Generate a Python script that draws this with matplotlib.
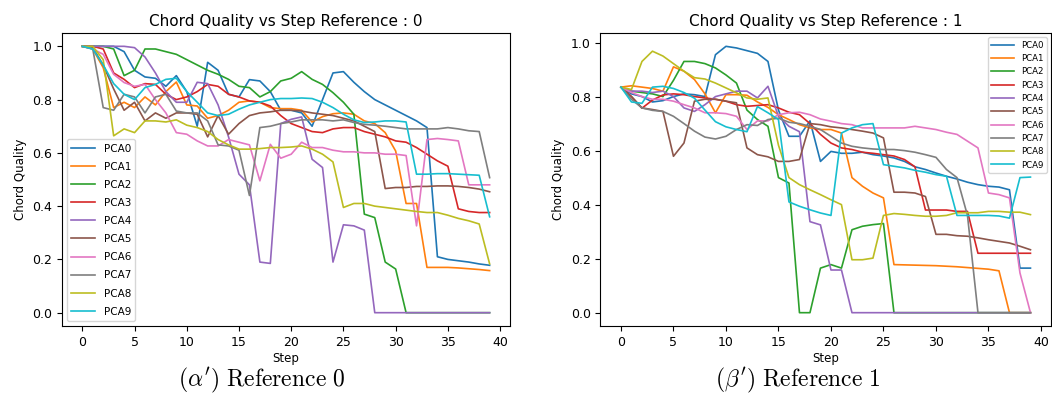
import matplotlib
matplotlib.use("Agg")
import matplotlib.pyplot as plt
import numpy as np

steps = list(range(40))
labels = [f"PCA{i}" for i in range(10)]
colors = plt.rcParams["axes.prop_cycle"].by_key()["color"]

# ---- Reference 0 ----
ref0_pca0 = [1.0, 1.0, 1.0, 1.0, 0.98, 0.91, 0.885, 0.88, 0.85, 0.89, 0.83, 0.70, 0.94, 0.91, 0.82, 0.81,
             0.875, 0.87, 0.83, 0.76, 0.76, 0.75, 0.70, 0.80, 0.90, 0.905, 0.865, 0.83, 0.80, 0.78, 0.76, 0.74,
             0.72, 0.695, 0.21, 0.20, 0.195, 0.19, 0.183, 0.178]
ref0_pca1 = [1.0, 0.99, 0.92, 0.77, 0.79, 0.77, 0.81, 0.78, 0.83, 0.866, 0.78, 0.776, 0.73, 0.74, 0.76, 0.79,
             0.795, 0.79, 0.77, 0.766, 0.766, 0.76, 0.716, 0.736, 0.747, 0.75, 0.745, 0.72, 0.71, 0.676, 0.607, 0.41,
             0.41, 0.17, 0.17, 0.17, 0.168, 0.165, 0.162, 0.158]
ref0_pca2 = [1.0, 1.0, 1.0, 0.99, 0.89, 0.91, 0.99, 0.99, 0.98, 0.97, 0.95, 0.93, 0.91, 0.895, 0.876, 0.85,
             0.845, 0.81, 0.83, 0.87, 0.88, 0.905, 0.876, 0.857, 0.826, 0.79, 0.745, 0.37, 0.357, 0.19, 0.164, 0.0,
             0.0, 0.0, 0.0, 0.0, 0.0, 0.0, 0.0, 0.0]
ref0_pca3 = [1.0, 1.0, 0.99, 0.90, 0.876, 0.845, 0.86, 0.857, 0.82, 0.80, 0.81, 0.83, 0.857, 0.85, 0.82, 0.81,
             0.795, 0.79, 0.776, 0.74, 0.71, 0.695, 0.68, 0.676, 0.69, 0.695, 0.695, 0.68, 0.67, 0.66, 0.645, 0.64,
             0.62, 0.595, 0.57, 0.55, 0.39, 0.38, 0.376, 0.376]
ref0_pca4 = [1.0, 1.0, 1.0, 1.0, 1.0, 0.995, 0.96, 0.90, 0.83, 0.79, 0.79, 0.865, 0.86, 0.78, 0.66, 0.52,
             0.48, 0.19, 0.185, 0.71, 0.726, 0.735, 0.576, 0.545, 0.19, 0.33, 0.326, 0.31, 0.0, 0.0, 0.0, 0.0,
             0.0, 0.0, 0.0, 0.0, 0.0, 0.0, 0.0, 0.0]
ref0_pca5 = [1.0, 0.995, 0.93, 0.84, 0.76, 0.79, 0.72, 0.75, 0.73, 0.75, 0.75, 0.745, 0.66, 0.74, 0.67, 0.71,
             0.74, 0.75, 0.754, 0.76, 0.76, 0.757, 0.75, 0.745, 0.74, 0.73, 0.72, 0.70, 0.68, 0.466, 0.47, 0.47,
             0.474, 0.474, 0.476, 0.476, 0.474, 0.47, 0.464, 0.454]
ref0_pca6 = [1.0, 0.99, 0.97, 0.895, 0.864, 0.85, 0.857, 0.80, 0.75, 0.676, 0.67, 0.645, 0.626, 0.626, 0.65, 0.64,
             0.63, 0.495, 0.632, 0.58, 0.595, 0.64, 0.62, 0.62, 0.61, 0.604, 0.604, 0.60, 0.60, 0.595, 0.595, 0.59,
             0.326, 0.65, 0.654, 0.65, 0.645, 0.48, 0.48, 0.48]
ref0_pca7 = [1.0, 0.99, 0.77, 0.76, 0.82, 0.81, 0.75, 0.81, 0.82, 0.757, 0.75, 0.75, 0.72, 0.63, 0.626, 0.61,
             0.44, 0.695, 0.70, 0.71, 0.716, 0.724, 0.724, 0.724, 0.72, 0.724, 0.714, 0.707, 0.704, 0.70, 0.695, 0.69,
             0.69, 0.69, 0.69, 0.695, 0.69, 0.683, 0.68, 0.507]
ref0_pca8 = [1.0, 1.0, 0.95, 0.664, 0.69, 0.676, 0.72, 0.72, 0.716, 0.724, 0.704, 0.695, 0.68, 0.65, 0.63, 0.614,
             0.614, 0.616, 0.62, 0.62, 0.622, 0.626, 0.614, 0.595, 0.566, 0.395, 0.41, 0.41, 0.40, 0.395, 0.39, 0.385,
             0.38, 0.376, 0.376, 0.366, 0.354, 0.345, 0.333, 0.183]
ref0_pca9 = [1.0, 0.99, 0.93, 0.86, 0.82, 0.80, 0.845, 0.857, 0.876, 0.88, 0.83, 0.79, 0.75, 0.74, 0.745, 0.764,
             0.78, 0.79, 0.80, 0.804, 0.804, 0.806, 0.804, 0.79, 0.77, 0.745, 0.724, 0.714, 0.716, 0.72, 0.72, 0.716,
             0.52, 0.52, 0.522, 0.522, 0.52, 0.518, 0.516, 0.36]

# ---- Reference 1 ----
ref1_pca0 = [0.835, 0.81, 0.80, 0.78, 0.785, 0.80, 0.81, 0.807, 0.80, 0.955, 0.986, 0.98, 0.97, 0.96, 0.93, 0.75,
             0.653, 0.653, 0.71, 0.56, 0.597, 0.59, 0.59, 0.594, 0.585, 0.58, 0.573, 0.56, 0.54, 0.53, 0.517, 0.505,
             0.495, 0.483, 0.474, 0.468, 0.465, 0.455, 0.165, 0.165]
ref1_pca1 = [0.835, 0.84, 0.835, 0.83, 0.82, 0.91, 0.894, 0.863, 0.81, 0.74, 0.807, 0.807, 0.805, 0.78, 0.76, 0.733,
             0.715, 0.696, 0.684, 0.678, 0.678, 0.665, 0.50, 0.468, 0.443, 0.425, 0.178, 0.177, 0.176, 0.175, 0.174, 0.172,
             0.17, 0.167, 0.164, 0.161, 0.155, 0.0, 0.0, 0.0]
ref1_pca2 = [0.835, 0.82, 0.815, 0.81, 0.80, 0.86, 0.93, 0.93, 0.922, 0.906, 0.88, 0.85, 0.75, 0.715, 0.69, 0.50,
             0.48, 0.0, 0.0, 0.165, 0.178, 0.165, 0.307, 0.32, 0.326, 0.33, 0.0, 0.0, 0.0, 0.0, 0.0, 0.0,
             0.0, 0.0, 0.0, 0.0, 0.0, 0.0, 0.0, 0.0]
ref1_pca3 = [0.835, 0.80, 0.757, 0.787, 0.806, 0.81, 0.807, 0.80, 0.795, 0.79, 0.783, 0.77, 0.764, 0.767, 0.77, 0.758,
             0.742, 0.733, 0.70, 0.66, 0.628, 0.61, 0.604, 0.594, 0.59, 0.585, 0.58, 0.567, 0.54, 0.38, 0.38, 0.38,
             0.375, 0.375, 0.22, 0.22, 0.22, 0.22, 0.22, 0.22]
ref1_pca4 = [0.835, 0.82, 0.82, 0.815, 0.82, 0.80, 0.758, 0.745, 0.77, 0.80, 0.81, 0.82, 0.82, 0.795, 0.838, 0.727,
             0.69, 0.67, 0.337, 0.325, 0.158, 0.158, 0.0, 0.0, 0.0, 0.0, 0.0, 0.0, 0.0, 0.0, 0.0, 0.0,
             0.0, 0.0, 0.0, 0.0, 0.0, 0.0, 0.0, 0.0]
ref1_pca5 = [0.835, 0.80, 0.758, 0.752, 0.745, 0.579, 0.628, 0.783, 0.79, 0.79, 0.783, 0.777, 0.61, 0.585, 0.577, 0.56,
             0.56, 0.567, 0.70, 0.696, 0.688, 0.684, 0.678, 0.672, 0.665, 0.647, 0.446, 0.446, 0.443, 0.43, 0.29, 0.29,
             0.285, 0.283, 0.277, 0.27, 0.264, 0.258, 0.246, 0.233]
ref1_pca6 = [0.835, 0.815, 0.80, 0.79, 0.79, 0.783, 0.77, 0.758, 0.74, 0.74, 0.737, 0.727, 0.678, 0.71, 0.71, 0.733,
             0.74, 0.742, 0.733, 0.717, 0.709, 0.70, 0.696, 0.684, 0.684, 0.684, 0.684, 0.684, 0.69, 0.684, 0.678, 0.668,
             0.66, 0.635, 0.61, 0.443, 0.437, 0.425, 0.147, 0.0]
ref1_pca7 = [0.835, 0.79, 0.758, 0.749, 0.745, 0.727, 0.70, 0.672, 0.65, 0.643, 0.653, 0.678, 0.696, 0.693, 0.715, 0.72,
             0.705, 0.70, 0.69, 0.678, 0.653, 0.628, 0.616, 0.61, 0.606, 0.604, 0.604, 0.60, 0.594, 0.585, 0.575, 0.53,
             0.50, 0.36, 0.0, 0.0, 0.0, 0.0, 0.0, 0.0]
ref1_pca8 = [0.835, 0.826, 0.93, 0.968, 0.95, 0.922, 0.894, 0.87, 0.865, 0.85, 0.832, 0.814, 0.795, 0.79, 0.795, 0.62,
             0.50, 0.474, 0.455, 0.437, 0.418, 0.40, 0.196, 0.196, 0.202, 0.36, 0.367, 0.364, 0.36, 0.357, 0.357, 0.36,
             0.37, 0.37, 0.37, 0.375, 0.375, 0.372, 0.372, 0.363]
ref1_pca9 = [0.835, 0.78, 0.775, 0.835, 0.838, 0.83, 0.815, 0.794, 0.75, 0.707, 0.688, 0.678, 0.67, 0.763, 0.74, 0.715,
             0.41, 0.394, 0.381, 0.369, 0.36, 0.665, 0.684, 0.696, 0.70, 0.548, 0.542, 0.536, 0.527, 0.52, 0.511, 0.505,
             0.36, 0.36, 0.36, 0.36, 0.358, 0.35, 0.50, 0.502]

ref0 = [ref0_pca0, ref0_pca1, ref0_pca2, ref0_pca3, ref0_pca4,
        ref0_pca5, ref0_pca6, ref0_pca7, ref0_pca8, ref0_pca9]
ref1 = [ref1_pca0, ref1_pca1, ref1_pca2, ref1_pca3, ref1_pca4,
        ref1_pca5, ref1_pca6, ref1_pca7, ref1_pca8, ref1_pca9]

plt.rcParams["mathtext.fontset"] = "cm"

fig = plt.figure(figsize=(10.52, 4.2), dpi=100)
ax0 = fig.add_axes([0.0589, 0.2238, 0.4259, 0.6976])
ax1 = fig.add_axes([0.5708, 0.2238, 0.4282, 0.6976])


def draw(ax, series, ref_id, legend_loc, legend_size, handle_len, spacing):
    for lab, col, ys in zip(labels, colors, series):
        ax.plot(steps, ys, color=col, lw=1.2, label=lab)
    ax.set_title(f"Chord Quality vs Step Reference : {ref_id}", fontsize=11, pad=5)
    ax.set_xlabel("Step", fontsize=8.5, labelpad=2)
    ax.set_ylabel("Chord Quality", fontsize=8.5, labelpad=4)
    ax.set_xticks(range(0, 41, 5))
    ax.set_yticks(np.arange(0, 1.01, 0.2))
    ax.tick_params(labelsize=9)
    ax.legend(loc=legend_loc, fontsize=legend_size, handlelength=handle_len,
              labelspacing=spacing)


draw(ax0, ref0, 0, "lower left", 7.5, 2.3, 0.78)
draw(ax1, ref1, 1, "upper right", 6.2, 2.6, 0.5)

fig.text(0.249, 0.095, r"$(\alpha^{\prime})\ \mathrm{Reference\ 0}$", fontsize=17, ha="center", va="center")
fig.text(0.758, 0.095, r"$(\beta^{\prime})\ \mathrm{Reference\ 1}$", fontsize=17, ha="center", va="center")

fig.savefig("out.png", dpi=100)
